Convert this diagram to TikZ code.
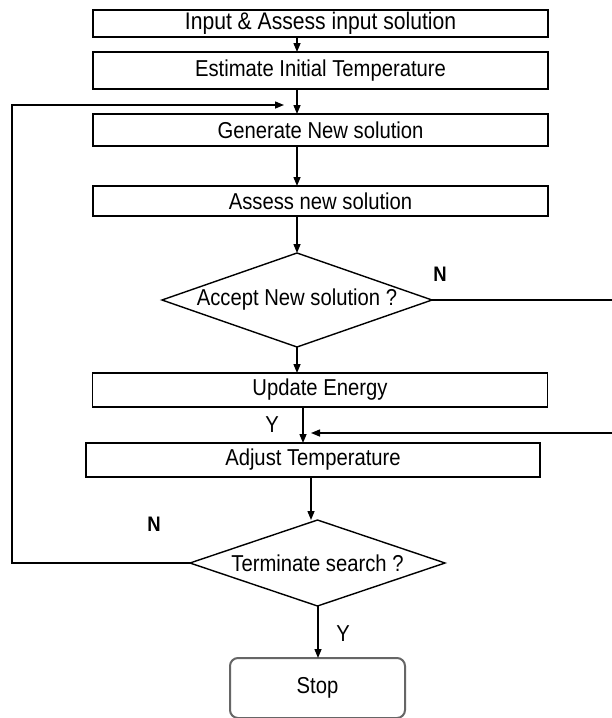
\documentclass[tikz,border=0pt]{standalone}
\usepackage{fontspec}
\setmainfont{Liberation Sans}[FakeStretch=0.88]
\usetikzlibrary{shapes.geometric,arrows.meta}
\begin{document}
\begin{tikzpicture}[x=1pt,y=-1pt,
  txt/.style={font=\fontsize{23}{25}\selectfont},
  box/.style={txt,draw=black,line width=1.4pt,minimum width=455pt,inner sep=0pt,outer sep=0pt},
  dia/.style={txt,draw=black,line width=1.4pt,diamond,inner sep=0pt,outer sep=0pt},
  stopbox/.style={txt,draw=black!60,line width=2pt,rounded corners=8pt,minimum width=175pt,minimum height=60pt,inner sep=0pt,outer sep=0pt},
  lab/.style={font=\fontsize{23}{25}\selectfont},
  blab/.style={font=\fontsize{21}{23}\selectfont\bfseries},
  conn/.style={line width=1.4pt},
  arr/.style={conn,-{Triangle[length=9pt,width=7pt]}}]
\clip (0,0) rectangle (612,718);
\fill[white] (0,0) rectangle (612,718);
% boxes
\node[box,minimum height=27pt] (b1) at (320.5,23.5) {\raisebox{1.5pt}{\fontsize{24}{26}\selectfont Input \& Assess input solution}};
\node[box,minimum height=37pt] (b2) at (320.5,70.5) {Estimate Initial Temperature};
\node[box,minimum height=32pt] (b3) at (320.5,130) {Generate New solution};
\node[box,minimum height=30pt] (b4) at (320.5,201) {Assess new solution};
\node[dia,aspect=2.87,minimum width=270pt,minimum height=94pt] (d1) at (297,300) {Accept New solution ?};
\node[box,minimum height=34pt] (b5) at (320,390) {Update Energy};
\node[box,minimum width=454pt,minimum height=34pt] (b6) at (313,460) {Adjust Temperature};
\node[dia,aspect=2.97,minimum width=255pt,minimum height=86pt] (d2) at (317.5,563) {Terminate search ?};
\node[stopbox] (st) at (317.5,688) {Stop};
% helper coordinates
\coordinate (cx) at (297,0);
\coordinate (cy) at (303,0);
\coordinate (cz) at (311,0);
\coordinate (cs) at (318,0);
\coordinate (rA) at (625,300);
\coordinate (rB) at (625,433);
\coordinate (j1) at (311,433);
\coordinate (lA) at (12,563);
\coordinate (lB) at (12,105);
\coordinate (fb) at (284,105);
% connectors
\draw[arr] (b1.south -| cx) -- (b2.north -| cx);
\draw[arr] (b2.south -| cx) -- (b3.north -| cx);
\draw[arr] (b3.south -| cx) -- (b4.north -| cx);
\draw[arr] (b4.south -| cx) -- (d1.north);
\draw[arr] (d1.south) -- (b5.north -| cx);
\draw[arr] (b5.south -| cy) -- (b6.north -| cy);
\draw[arr] (d1.east) -- (rA) -- (rB) -- (j1);
\draw[arr] (b6.south -| cz) -- (cz |- d2.north);
\draw[arr] (d2.west) -- (lA) -- (lB) -- (fb);
\draw[arr] (d2.south -| cs) -- (st.north -| cs);
% labels
\node[blab] (n1) at (440,274) {N};
\node[lab] (y1) at (272,425) {Y};
\node[blab] (n2) at (154,524) {N};
\node[lab] (y2) at (343,634) {Y};
\end{tikzpicture}
\end{document}
